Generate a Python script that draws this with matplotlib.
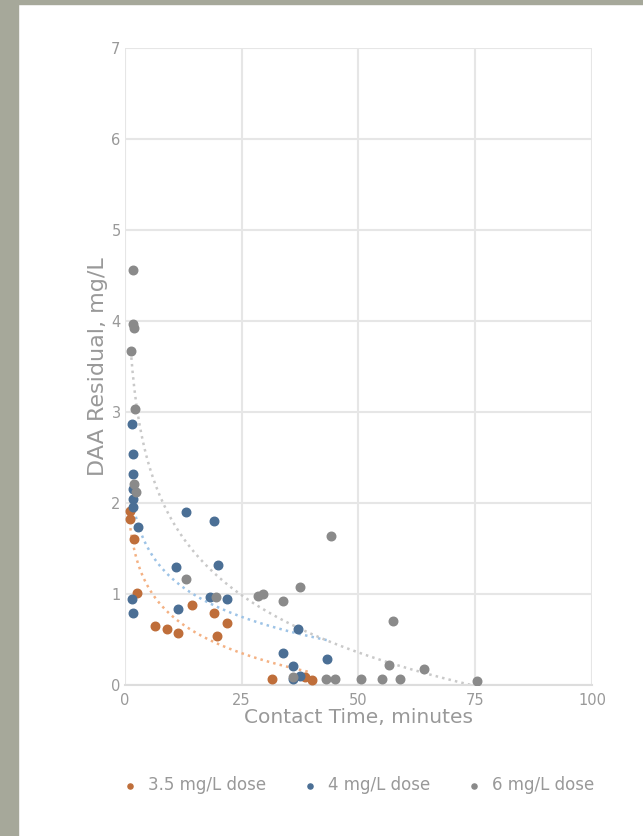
import matplotlib
matplotlib.use('Agg')
import matplotlib.pyplot as plt
from matplotlib.patches import Rectangle
import numpy as np

# Serien (Kontaktzeit in Minuten, DAA-Rest in mg/L)
x_35 = [1.2, 1.2, 2.0, 2.6, 6.4, 9.0, 11.3, 14.3, 19.2, 19.7, 21.8, 31.6, 38.5, 40.0]
y_35 = [1.91, 1.82, 1.60, 1.01, 0.64, 0.61, 0.57, 0.88, 0.79, 0.53, 0.68, 0.06, 0.08, 0.05]

x_4 = [1.5, 1.7, 1.7, 1.7, 1.7, 1.7, 2.8, 1.5, 1.7, 13.2, 19.2, 19.9, 10.9, 11.3,
       18.2, 21.8, 37.0, 33.8, 43.2, 36.0, 36.0, 37.5]
y_4 = [2.87, 2.54, 2.32, 2.15, 2.04, 1.95, 1.73, 0.94, 0.79, 1.90, 1.80, 1.32, 1.29, 0.83,
       0.96, 0.94, 0.61, 0.35, 0.28, 0.20, 0.06, 0.10]

x_6 = [1.7, 1.7, 1.9, 1.3, 2.2, 2.0, 2.4, 13.2, 19.5, 28.4, 29.5, 33.8, 37.4, 44.2, 57.3,
       56.6, 64.1, 75.4, 43.0, 45.0, 50.6, 55.0, 58.8, 36.0]
y_6 = [4.56, 3.96, 3.92, 3.67, 3.03, 2.20, 2.12, 1.16, 0.96, 0.97, 1.00, 0.92, 1.07, 1.63,
       0.70, 0.22, 0.17, 0.04, 0.06, 0.06, 0.06, 0.06, 0.06, 0.08]

serien = [
    ('3.5 mg/L dose', x_35, y_35, '#BF6E3A', '#F4B183'),
    ('4 mg/L dose', x_4, y_4, '#4B6F95', '#9DC3E6'),
    ('6 mg/L dose', x_6, y_6, '#8A8A8A', '#C9C9C9'),
]

grau = '#999999'

fig = plt.figure(figsize=(6.43, 8.36), dpi=100)
ax = fig.add_axes([0.194, 0.181, 0.727, 0.762])

# grauer Rand wie im Screenshot
fig.add_artist(Rectangle((0, 0), 18 / 643, 1, transform=fig.transFigure,
                         color='#A6A89A', zorder=10))
fig.add_artist(Rectangle((0, 1 - 4 / 836), 1, 4 / 836, transform=fig.transFigure,
                         color='#A6A89A', zorder=10))

for name, xs, ys, farbe, hell in serien:
    xs = np.array(xs)
    ys = np.array(ys)
    # logarithmische Trendlinie wie in Excel
    k = np.polyfit(np.log(xs), ys, 1)
    xt = np.linspace(xs.min(), xs.max(), 200)
    ax.plot(xt, k[0] * np.log(xt) + k[1], ':', color=hell, lw=1.8, zorder=2)
    ax.scatter(xs, ys, s=38, color=farbe, edgecolors=farbe, label=name, zorder=3)

ax.set_xlim(0, 100)
ax.set_ylim(0, 7)
ax.set_xticks([0, 25, 50, 75, 100])
ax.set_yticks(range(0, 8))
ax.grid(True, color='#E6E6E6', lw=1.5)
ax.set_axisbelow(True)
for s in ['top', 'right', 'left']:
    ax.spines[s].set_visible(False)
ax.spines['bottom'].set_color('#DDDDDD')
ax.spines['bottom'].set_linewidth(1.5)
ax.tick_params(length=0, colors=grau, labelsize=10.5, pad=6)
ax.tick_params(axis='y', pad=3)

ax.set_xlabel('Contact Time, minutes', fontsize=14.5, color=grau, labelpad=0)
ax.set_ylabel('DAA Residual, mg/L', fontsize=16, color=grau, labelpad=2)

leg = ax.legend(loc='upper center', bbox_to_anchor=(0.49, -0.12), ncol=3,
                frameon=False, fontsize=12, handletextpad=0.1, columnspacing=1.6,
                markerscale=0.6, labelcolor=grau)

fig.savefig('out.png', dpi=100)
